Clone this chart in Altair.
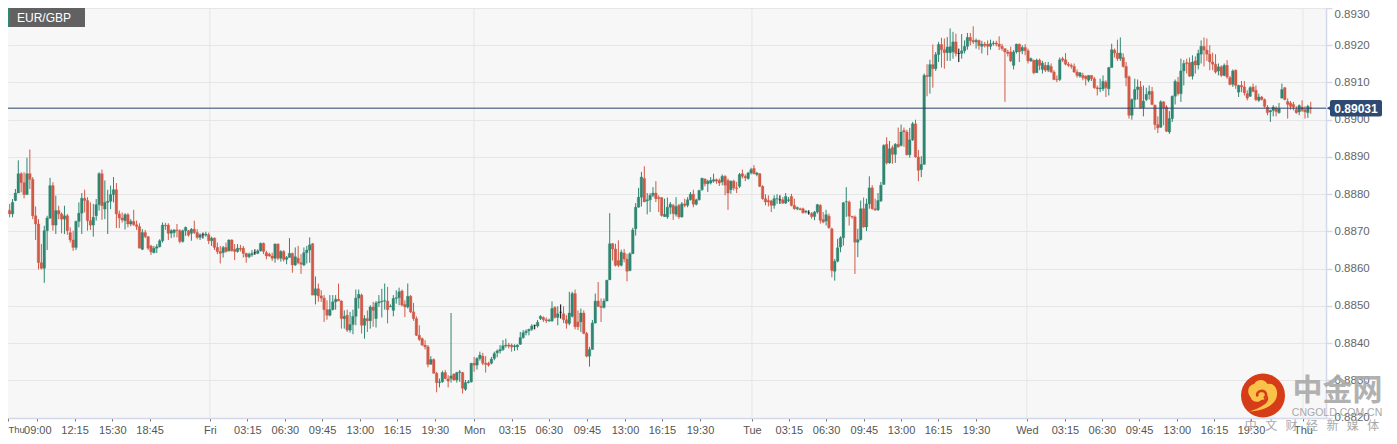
import json
import altair as alt
import pandas as pd

# Prices are given in pips above 0.8800 (76.5 means 0.88765)
BASE = 0.88
opens = [
75.1,76.3,76,75.6,74.7,78.3,80.3,85.5,83.1,79.9,
85.5,84,74.2,72,61.6,60.1,70.2,73.6,82.3,71.7,
75.6,74.7,73.3,74.2,69.7,67.7,65.7,72.7,74.9,78.9,
78.3,72.9,71.7,74.2,77.2,85.5,76,77.8,78.1,79.9,
81.2,74.7,73.6,72.9,74.5,72,72.7,71.8,71.3,65.2,
69.7,68.6,66.1,64.3,65.5,65.9,67.5,71.7,71.7,69.5,
69.7,70.4,70.2,67.3,70.2,70.2,69.5,70.6,69.7,68.4,
69.1,69,69.1,67.5,68.2,65.7,64.6,64.3,65.7,64.8,
67.7,65.2,64.6,65.5,65.5,64.1,63.2,63.7,64.3,64.1,
64.8,66.8,64.3,63.9,63.4,62.8,66.6,62.8,64.6,62.5,
63,64.1,61,62.8,61.6,61,64.3,65,66.7,52.9,
54.6,52.7,52.1,49,47.5,49,51.1,51.8,51.3,46.6,
47.5,43.5,45,47.2,52.1,52.9,44.8,46.6,46,49.7,
46.6,50.8,51.1,51.3,51.3,49.7,48.8,52,52.2,54,
50.4,49.7,52.6,48.4,46.6,42.1,41.2,39.5,39,34.3,
35.6,31.9,29.4,29.6,32.1,30.4,30.5,31.7,30.1,32.1,
32.1,27.6,29.4,29.6,34.6,34.1,35.9,36.5,34.6,34.6,
34.6,35.9,37.4,37.9,38.3,39.3,39.5,39.5,39,39,
39.7,41.5,42.8,43.3,43.7,44.8,44.6,46.6,46.9,46.3,
46,46,49.6,46.9,48.3,47.9,46.3,45.3,47.2,53.3,
45.7,45.7,48.1,42.6,36.5,38.3,45.4,51.3,49.9,49.6,
51.3,57,66.7,65.3,62.2,60.9,64.2,62.6,59.5,64,
70.7,76.5,79.2,84.2,78.2,78.5,79.7,80.3,79.1,79.1,
74,73.9,76.5,77,74.6,77,73.9,77.4,77,78.5,
80,77.3,78.5,81.2,84.1,82.8,83,83.5,83.9,83.7,
83.3,84.8,83.7,81.2,83.5,81.7,82.1,85.5,84.8,84.2,
85.7,86.9,85.3,85.5,82.1,78.8,78.3,78.2,77,78.7,
78.5,78.5,77.6,78.3,79.4,77,76.1,76.1,76.1,75.2,
75,74.8,74,75.2,77,73.2,72.8,74.1,70.7,59.3,
62,65.8,68.3,77.9,77.9,74.1,73.9,67.1,67.8,76.1,
71.2,77.4,81.7,76.1,75.8,78.2,82.6,93.4,88.4,92.5,
90.7,93.4,93.1,97.1,96.7,90.6,94.6,98.9,90,86.6,
88,111.9,111.6,114.8,113.7,117.5,120.2,118.8,118,118,
118.2,120.9,117.8,117.8,118.5,119.7,122.1,121.3,120.9,121.3,
119.7,120.3,120.3,119.7,120.4,120.6,120.3,119.7,119.1,118.2,
118.2,114.6,118.2,120.3,118.5,119.4,118.5,115.8,116,112.6,
116,113.5,114.6,113.3,114.3,112.8,110.8,110.8,116.4,116.1,
114.9,114.6,114.3,112.8,111.7,111.9,111.7,110.6,111.9,111,
108.6,108.3,108.3,110.1,108.3,114,118.7,117.9,116.4,116.7,
114.3,111.5,101.2,105.4,108.1,108.8,103.2,105.4,106.8,107.6,
103.9,98.7,98,104.8,103.4,96.7,100.3,106.3,110.1,107,
113.1,115.3,115.3,111.7,115.8,114.7,117.6,119.7,118.7,117.6,
115.5,114.9,113.1,114.2,111.9,114.6,111.3,109.5,113.3,107.4,
109.2,108.8,107,106.3,108.8,107.9,105.2,106.1,105.4,103.4,
102.1,102.5,103.1,101.9,105.8,108.6,104.9,104.5,104.1,102.7,
102.1,103.4,102.7,101.9,103.2,
]
closes = [
76.5,75.8,75.1,74.7,77.8,80.3,85.5,83.1,79.9,85.5,
84,74.2,72,61.6,60.1,70.2,73.6,82.3,71.7,75.6,
74.7,73.3,74.2,70.2,67.7,65.7,72.7,74.9,78.9,78.3,
72.9,71.7,73.8,77.2,85.5,76.9,77.8,78.1,79.9,81.2,
74.7,73.6,73.1,74.5,72,72.7,71.8,71.3,65.5,69.7,
68.6,65.5,64.5,65.5,65.9,67.5,71.7,71.5,69.5,70.2,
70.4,70.2,67.3,70.2,71.1,69,70.6,69.7,68.4,69.1,
69.1,69.3,67.5,68.2,65.7,64.6,64.1,65.7,64.6,67.7,
64.8,64.6,65.5,65.2,64.1,63.2,63.9,64.1,64.3,64.8,
66.8,64.6,63.4,63.4,62.8,66.6,62.8,64.6,62.5,63,
64.1,61,63.2,61.6,61.2,64.3,65,66.4,52.9,54.6,
52.7,52.1,49,47.5,49,51.1,51.8,51.3,46.6,47.2,
43.5,45,47.2,52.1,53.1,44.8,46.6,46,49.7,48.8,
50.8,51.1,51.3,51.4,49,49.9,52,52.2,53.8,50.2,
49.7,52.6,48.4,46.6,42.1,41,39.5,39,34.3,35.6,
31.9,29.4,29.6,32.1,30.5,29.8,31.2,30.1,32.1,32.3,
27.9,29.4,29.6,34.6,34.1,35.9,36.8,34.6,34.3,34.1,
35.7,37.2,37.9,38.3,39.3,39.5,39.2,39,39.3,39.5,
41.5,42.8,43.2,43.7,44.6,44.8,45.6,47.2,46.3,46,
46.2,49.3,46.9,47.9,48.3,46.3,45.3,48.1,53.3,44.4,
44.4,48.1,42.6,36.5,38.3,45.4,51.3,49.9,49.6,51.3,
56.9,66.7,65.3,60.9,60.9,64.4,62.6,59.3,64,70.4,
76.5,79.2,84.6,77.9,78.5,79.7,80.3,78.8,78.8,74.3,
74.6,76.5,77.3,74.8,76.7,73.9,77.4,77,78.5,80,
77.3,78.5,81,84.3,82.8,83.5,83.7,83.9,83.5,83,
84.8,82.4,80.3,83.5,81.7,81.5,85.3,84.8,84.4,85.7,
86.6,85.5,85.7,82.1,78.8,77.9,77.9,77,78.8,78.8,
78.5,77.6,79.4,78.5,77,76.1,76.4,75.8,75,75.5,
75,74,75.2,77.2,73,72.5,74.5,71,59.5,62,
65.6,68.3,77.7,78,74.1,73.9,67.1,67.8,76.1,71.2,
77.4,81.7,76.1,75.8,78.3,82.4,93.1,88.4,92.2,90.7,
93.4,92.7,96.7,96.7,90.6,94.6,98.9,90,86.4,88,
111.9,111.6,114.8,113.7,117.5,120.2,118.8,118,119.5,119.6,
120.9,117.8,117.8,118.5,119.7,122.1,121.2,120.9,121.3,119.9,
120.3,119.9,119.7,120.4,120.6,120.3,119.7,119.1,118.2,117.8,
115.8,118.2,120.3,118.2,119.4,118.5,115.8,116.4,112.6,116,
114.6,115.2,113.3,114.6,112.8,110.8,110.7,116.1,116,114.9,
114.6,114.3,112.8,111.9,112.6,111.3,111,111.9,111,108.6,
108.3,108.5,110.3,108.6,114,118.8,117.9,116.4,117.9,114.3,
111.3,101.2,105.4,108.1,108.8,103.2,105,106.8,107.6,104.1,
98.7,97.8,104.8,103.2,96.9,100.3,106.3,110.3,107,113.1,
115.1,115.1,111.7,115.5,114.7,117.8,119.7,118.7,117.6,115.5,
114.9,112.8,114.2,111.9,114.6,111.5,109.5,113.1,109.2,109.2,
108.8,107.2,105.8,108.6,107.6,105.4,106.1,105.4,103.6,101.9,
102.5,103.4,102.2,103,108.1,105.4,104.1,103.6,103.4,101.9,
103.8,102.5,102.1,103.6,103,
]
highs = [
76.9,78.7,78.1,77.4,78.7,81.4,89.1,85.9,85.9,89.8,
92,84.6,76.7,73.3,66.6,71.5,74.2,84.4,83.2,79.6,
76.9,75.1,76.9,74.7,71.1,70.2,72.9,77.8,80.3,81.2,
79.2,77.8,77.4,78.7,85.9,86.6,83.7,81.2,82.3,84.6,
83,75.6,75.1,74.9,74.9,73.3,75.8,72.9,72.2,70.6,
70.4,68.7,66.4,66.1,66.6,67.9,72.4,72.3,72.2,70.6,
70.6,72,70.6,70.5,71.3,70.4,70.9,72.9,70.6,69.5,
69.7,69.9,69.7,68.6,68.4,67,66.1,66.1,67,67.9,
67.9,66.6,66.6,66.4,66.1,64.3,64.3,65,65.2,65.2,
67,67,64.8,64.3,64.3,66.8,66.8,65,65,63.4,
68.2,64.3,65.7,66.1,63.9,65.7,66.1,68.4,66.9,57.9,
56,54.2,52.9,51.5,52.9,52.9,52.9,56,51.5,48.8,
49,48.4,49,54.4,54.4,53.3,47.5,48.8,50.2,51.1,
51.3,52.9,54.6,56,55.1,50.4,52.9,54.2,54.9,54.4,
51.5,56,52.9,50.8,47.2,44.8,41.5,40.8,39.5,36.5,
35.9,32.3,30.5,32.6,32.8,31.4,48.1,31.9,32.3,32.8,
32.3,30.1,30.1,34.7,36.3,36.2,37.7,37.4,36.5,35,
36.3,37.7,38.3,39.5,40.8,41.2,40.1,39.9,39.7,39.7,
43,43.5,43.7,43.9,45.1,44.9,46.2,47.5,47.2,46.9,
46.6,51.2,49.9,49.9,50.4,49.9,47.5,53.8,53.8,54.4,
48.8,49.3,48.8,43,39,46.2,53.3,56.4,52,52,
57,74.9,66.9,66.7,67.6,65.1,65.3,64,64.4,71,
77.6,81.7,86,87.5,80.3,80.3,81.9,83.5,79.7,79.2,
78.8,79.1,77.9,77.4,79.2,77.4,77.9,78.8,79.2,80.6,
81.2,78.8,81.2,84.4,84.2,83.9,84.6,85.5,84.2,84.2,
85.3,85.1,84.2,83.7,83.9,83.3,85.7,86.6,85.3,86,
87.1,87.8,86,85.7,82.4,80,79.7,78.5,79.7,80,
79.7,79.2,80.3,79.2,80.1,78.8,76.7,76.4,76.4,75.7,
75.7,75.2,75.5,77.4,77.3,75.2,75.8,74.8,71,62.6,
68,68.7,77.9,81.9,78.3,74.1,74.3,70.7,78.3,79.1,
78.8,84.8,82.4,78.8,80.3,83.3,93.4,95.3,94.3,93.1,
93.7,97.9,98.7,97.9,97.3,97.8,99.4,100,91.9,90.2,
112.4,114.9,116.1,120.2,118.2,120.9,122,121.8,122.2,124.5,
123.6,123.1,119.1,123,121.3,123.3,123.3,125.1,121.8,121.5,
121.2,120.9,121.3,121.5,121.2,121.2,122.4,120.4,119.1,118.8,
119.6,118.7,120.4,120.4,120,120.3,119.1,116.7,116.1,116.4,
116.4,115.8,115.5,115.5,115.1,113.3,111.9,116.7,116.9,117.9,
115.5,115.1,115.1,113.5,112.8,112.6,111.9,111.9,111.9,111.5,
109.2,111,111.9,110.6,114.2,120.4,119.1,121.5,122.1,117.8,
115.5,111.9,105.7,111,110.8,110.4,109.2,108.6,109.2,108.8,
104.1,100.9,105.2,105,103.9,102.3,106.5,110.8,111.5,116.4,
116,116.4,116.7,117.3,117,118.8,121.3,122.1,121.8,120,
118,117.6,115.1,114.6,115.1,116,111.7,113.5,113.5,109.4,
110.4,110.4,107.9,109,109.7,109.2,107,106.4,105.7,103.9,
102.7,103.9,103.6,104.5,109.7,108.8,105.7,105,104.8,103.6,
104.1,105.2,103.6,104,104.8,
]
lows = [
74.2,74.9,74.7,73.8,73.8,78.1,80.5,80.5,78.9,79.9,
81.4,73.3,67.7,59.8,59.8,56.2,65,73.3,70.2,69.3,
73.3,69.5,69.3,69.1,67,64.8,65,71.1,69.3,75.1,
70.2,70.4,68.6,72.9,75.6,73.1,73.3,69.3,76,77.8,
70.9,70.9,72.4,70.5,71.1,71.4,71.5,70.4,65.5,65,
68.2,65,63.7,64.1,64.2,65.7,67,70.4,67.7,68.2,
68.4,68.4,66.8,67,68.8,68.6,67.5,69.3,67.9,67.7,
68.1,68.6,66.6,66.1,65,63.9,61.4,63,64.3,64.6,
64.6,62.3,64.3,64.6,63,61.6,62.8,63.2,63.7,63.9,
64.6,63.9,62.5,63.2,62.1,61.6,62.3,61.9,61.9,61.2,
63,58.9,60.7,61.2,58.6,60.7,61.4,61.6,52.9,50.4,
51.1,51.1,45.7,46.3,47.2,48.8,49,51.3,43.9,43.9,
43,42.8,42.4,44.8,49.3,42.6,41.2,43,43.9,44.4,
44.2,49.7,46.9,49,45.3,49.7,47.2,50.6,50.2,49.9,
47,49.3,48.1,46,41.9,40.6,39.2,38.3,33.5,34.3,
31.9,26.8,28.1,29.4,30.3,28.1,29.4,29.9,29.4,29.6,
26.5,27.2,29.2,29.4,32.3,32.9,35.3,34.1,32.1,33.7,
34.3,35.4,36.2,37.2,37.9,38.8,38.6,37.7,37.9,38.1,
39.5,41.2,42.1,42.1,43.3,43.7,44.2,46.2,45.7,45.4,
45.7,45.7,46.6,44.8,46.6,45.4,43.9,44.8,46.9,43.7,
43.5,43,42.4,36.2,33.7,38.3,45.3,49.7,45.7,49.3,
51.3,57,62.2,60.6,60.4,60.6,61.7,56.6,59.3,64,
68.9,76.4,76.7,77.9,74.6,75.2,79.2,77.9,75.2,74,
73.9,73.4,74.6,73.1,74,73.4,73.7,76.5,76.5,78.3,
76.5,77,78.3,80.9,82.1,80.6,82.6,83.1,82.8,82.2,
82.4,79.7,75.8,80.1,81,80.3,81.7,84.2,83.5,83.9,
85.3,85.3,84.8,81.9,78.5,77,76.7,75.2,76.1,77.4,
77.4,77.4,77.4,77.9,76.7,75.8,75.7,75.7,74.8,74.8,
74.5,73.4,73,74.8,72.1,72.2,71.6,70.7,57.7,56.8,
61.7,64.4,66.2,73.9,71.6,73.4,58.6,63.1,67.6,71,
70.1,76.1,75.8,75.5,75.5,77.9,82.6,88,88.2,88.2,
88.4,92.5,92.8,92.7,90.4,89.8,94.3,89.8,83.5,84.6,
88,106.3,107,108.6,113.1,115.5,114,113.7,115.8,115.8,
116.4,117,115.5,116.4,117.8,118.8,120,120.3,119.1,118.8,
117.8,119.4,117.3,118.8,119.9,119.7,118.7,118.5,104.8,117,
115.5,113.5,117.8,115.5,117.6,117.3,115.1,115.5,112.2,112.6,
113.3,112.4,112.8,112.8,112.6,110.6,110.1,110.4,115.5,114.6,
114.2,113.7,112.6,111.3,111.3,110.6,109.2,110.1,110.4,108.3,
106.5,107.4,107.7,106.1,106.5,114,116.7,115.8,115.8,114,
109,100.3,100,103.2,105.4,103,100.9,105,105.4,103.9,
97.3,96.4,97.8,98.5,96.7,96.2,99.4,104.1,106.5,104.8,
109.2,112.4,111.5,110.8,112.4,113.5,115.1,114.3,115.8,113.3,
113.3,112.4,111.9,111.5,111.7,111,109.2,108.8,108.3,106.1,
107.4,106.5,105.2,106.1,107.4,105,104.8,105.2,103.2,101.2,
99.4,100.9,100.9,101.6,105.7,105.2,100.3,102.7,102.5,101.6,
101.2,102.1,100.3,100.5,101.6,
]

# Time axis (positions in bar numbers)
time_ticks = [2.43,12.6,25.5,38.6,51.5,72.4,85.4,98.4,111.3,124.4,137.3,150.4,164,177.1,189.9,203.1,216.3,
              229.1,242.3,260.3,273.1,286,299.1,312,324.8,338,355.6,368.8,381.6,394.5,407.6,420.5,433.3,451.3]
time_labels = ["Thu","09:00","12:15","15:30","18:45","Fri","03:15","06:30","09:45","13:00","16:15","19:30",
               "Mon","03:15","06:30","09:45","13:00","16:15","19:30","Tue","03:15","06:30","09:45","13:00",
               "16:15","19:30","Wed","03:15","06:30","09:45","13:00","16:15","19:30","Thu"]
day_lines = [72.4,164,260.3,355.6,451.3]
price_ticks = [0.882,0.883,0.884,0.885,0.886,0.887,0.888,0.889,0.89,0.891,0.892,0.893]
last_price = 0.89031
pair_name = "EUR/GBP"

FONT = "Liberation Sans"
CJK = "Noto Sans CJK SC"
GREEN = "#2f8672"
RED = "#d15a47"
EDGE = "#d3d8ea"

df = pd.DataFrame({"n": range(len(opens)), "o": opens, "c": closes, "h": highs, "l": lows})
for k in "ochl":
    df[k] = BASE + df[k] / 10000
df["dir"] = ["flat" if a == b else ("up" if b > a else "down") for a, b in zip(opens, closes)]

xs = alt.Scale(domain=[2.43, 459.29], nice=False, zero=False, padding=0)
ys = alt.Scale(domain=[0.88199, 0.893], nice=False, zero=False, padding=0)
cs = alt.Scale(domain=["up", "down", "flat"], range=[GREEN, RED, "#000000"])

x_axis = alt.Axis(
    values=time_ticks, title=None, grid=False, domain=True, domainColor=EDGE, domainWidth=1.5,
    tickColor="#777777", tickSize=3,
    labelOverlap=False, labelFont=FONT, labelColor="#555555", labelPadding=3,
    labelExpr="%s[indexof(%s, datum.value)]" % (json.dumps(time_labels), json.dumps(time_ticks)),
    labelAlign={"condition": {"test": "datum.value < 3", "value": "left"}, "value": "center"},
    labelFontSize={"condition": {"test": "datum.value < 3", "value": 9.5}, "value": 11},
)
y_axis = alt.Axis(
    values=price_ticks, title=None, orient="right", format=".4f", grid=True, gridColor="#e6e6e6", gridWidth=1,
    domain=True, domainColor=EDGE, domainWidth=1.5, tickColor=EDGE, tickSize=6, tickWidth=1.5,
    labelOverlap=False, labelFont=FONT, labelFontSize=11.5, labelColor="#666666", labelPadding=2,
    labelBaseline={"condition": {"test": "datum.value > 0.8925", "value": "top"}, "value": "middle"},
)

grid_v = alt.Chart(pd.DataFrame({"n": day_lines})).mark_rule(color="#e6e6e6", strokeWidth=1).encode(
    x=alt.X("n:Q", scale=xs, axis=x_axis)
)
wicks = alt.Chart(df).mark_rule(strokeWidth=1, clip=True).encode(
    x=alt.X("n:Q", scale=xs, axis=x_axis),
    y=alt.Y("l:Q", scale=ys, axis=y_axis),
    y2="h:Q",
    color=alt.Color("dir:N", scale=cs, legend=None),
)
bodies = alt.Chart(df).mark_bar(size=2.6, strokeWidth=0.6, strokeOpacity=0.55, clip=True).encode(
    x=alt.X("n:Q", scale=xs, axis=x_axis),
    y=alt.Y("o:Q", scale=ys, axis=y_axis),
    y2="c:Q",
    color=alt.Color("dir:N", scale=cs, legend=None),
    stroke=alt.Stroke("dir:N", scale=cs, legend=None),
)

last = pd.DataFrame({"p": [last_price], "t": ["%.5f" % last_price]})
last_line = alt.Chart(last).mark_rule(color="#2b4468", strokeWidth=1).encode(
    y=alt.Y("p:Q", scale=ys, axis=y_axis)
)
badge = alt.Chart(last).mark_rect(color="#2e4a72", cornerRadius=2).encode(
    x=alt.value(1322), x2=alt.value(1374), y=alt.value(92), y2=alt.value(108.5)
)
badge_tip = alt.Chart(last).mark_point(shape="triangle-left", filled=True, size=28, color="#2e4a72", opacity=1).encode(
    x=alt.value(1321), y=alt.Y("p:Q", scale=ys, axis=y_axis)
)
badge_text = alt.Chart(last).mark_text(font=FONT, fontSize=12, fontWeight="bold", color="#ffffff", align="center", baseline="middle").encode(
    x=alt.value(1348), y=alt.value(100.5), text="t:N"
)

one = pd.DataFrame({"t": [pair_name]})
tag = alt.Chart(one).mark_rect(color="#616161").encode(
    x=alt.value(0), x2=alt.value(77), y=alt.value(0), y2=alt.value(19)
)
tag_strip = alt.Chart(one).mark_rect(color=GREEN).encode(
    x=alt.value(0), x2=alt.value(2), y=alt.value(0), y2=alt.value(19)
)
tag_text = alt.Chart(one).mark_text(font=FONT, fontSize=12, color="#ffffff", align="left", baseline="middle").encode(
    x=alt.value(9), y=alt.value(9.5), text="t:N"
)

# Watermark
logo_disc = alt.Chart(one).mark_point(shape="circle", filled=True, size=1936, color="#d63c17", opacity=1).encode(
    x=alt.value(1255), y=alt.value(387.5)
)
SWIRL = ("M-0.30,0.36 C-0.02,0.36 0.32,0.22 0.32,-0.04 C0.33,-0.20 0.20,-0.30 0.10,-0.26 "
         "C0.04,-0.38 -0.14,-0.38 -0.20,-0.26 C-0.34,-0.24 -0.38,-0.06 -0.28,0.04 "
         "C-0.26,0.14 -0.12,0.18 -0.04,0.10 C0.08,0.10 0.12,0.02 0.06,-0.04 "
         "C0.14,0.02 0.14,0.12 0.04,0.20 C-0.06,0.28 -0.18,0.32 -0.30,0.36 Z")
logo_swirl = alt.Chart(one).mark_point(shape=SWIRL, filled=True, size=7744, color="#fbc24a", opacity=1).encode(
    x=alt.value(1255), y=alt.value(387.5)
)
CURL = "M0.02,0.06 C0.10,0.02 0.08,-0.10 -0.02,-0.11 C-0.10,-0.11 -0.16,-0.04 -0.12,0.02"
logo_curl = alt.Chart(one).mark_point(shape=CURL, filled=False, size=7744, color="#d63c17", strokeWidth=2.5, opacity=1).encode(
    x=alt.value(1255), y=alt.value(387.5)
)
wm1 = alt.Chart(pd.DataFrame({"t": ["中金网"]})).mark_text(font=CJK, fontSize=30, fontWeight="bold", color="#a9a9a9", opacity=0.9, align="center", baseline="middle").encode(
    x=alt.value(1329.5), y=alt.value(383), text="t:N"
)
wm2 = alt.Chart(pd.DataFrame({"t": ["CNGOLD.COM.CN"]})).mark_text(font=FONT, fontSize=10.5, color="#a9a9a9", align="center", baseline="middle").encode(
    x=alt.value(1329), y=alt.value(405), text="t:N"
)
wm3 = alt.Chart(pd.DataFrame({"t": ["中\u2002\u2009文\u2002\u2009财\u2002\u2009经\u2002\u2009新\u2002\u2009媒\u2002\u2009体"]})).mark_text(font=CJK, fontSize=12, color="#a9a9a9", align="center", baseline="middle").encode(
    x=alt.value(1304), y=alt.value(418), text="t:N"
)

chart = alt.layer(
    grid_v, wicks, bodies, last_line, badge, badge_tip, badge_text,
    tag, tag_strip, tag_text, logo_disc, logo_swirl, logo_curl, wm1, wm2, wm3,
).properties(
    width=1318, height=410,
    padding={"left": 0, "top": 0, "right": 63, "bottom": 18},
    autosize=alt.AutoSizeParams(type="none"),
    background="#ffffff",
    view=alt.ViewConfig(fill="#f7f7f7", stroke=None),
)

chart.save("out.html", embed_options={"renderer": "svg", "actions": False})
